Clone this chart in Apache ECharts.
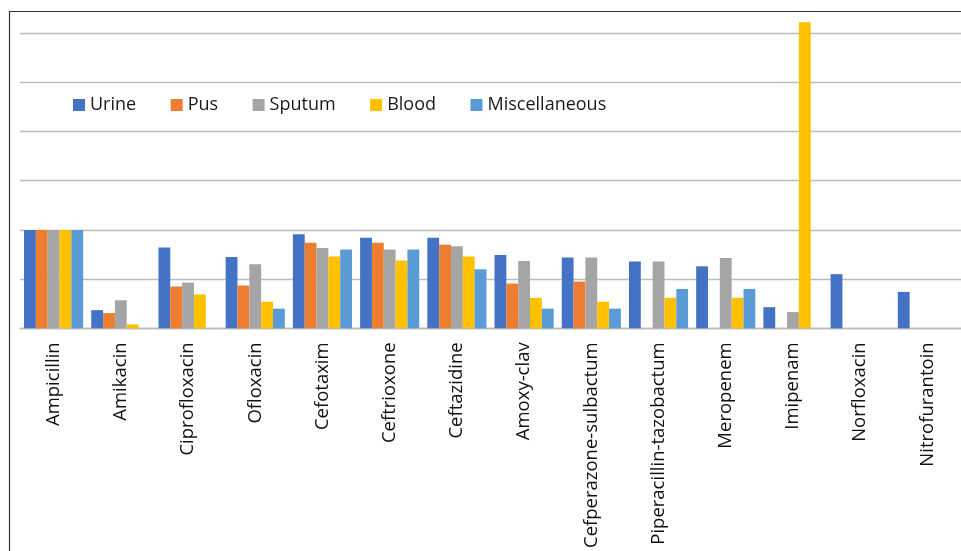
<!DOCTYPE html>
<html>
<head>
<meta charset="utf-8">
<script src="https://cdn.jsdelivr.net/npm/echarts@6/dist/echarts.min.js"></script>
<style>
  html, body { margin: 0; padding: 0; background: #fff; }
  #chart { width: 961px; height: 551px; }
</style>
</head>
<body>
<div id="chart"></div>
<script>
// Antibiotics tested
const categories = [
  'Ampicillin', 'Amikacin', 'Ciprofloxacin', 'Ofloxacin', 'Cefotaxim',
  'Ceftrioxone', 'Ceftazidine', 'Amoxy-clav', 'Cefperazone-sulbactum',
  'Piperacillin-tazobactum', 'Meropenem', 'Imipenam', 'Norfloxacin', 'Nitrofurantoin'
];

// Values per specimen source
const urine   = [100, 18.5, 82, 72.5, 95.5, 92, 92, 74.5, 72, 68, 63, 21.5, 55, 37];
const pus     = [100, 15.5, 42.5, 43.5, 87, 87, 85, 45.5, 47.5, 0, 0, 0, 0, 0];
const sputum  = [100, 28.5, 46.5, 65, 81.5, 80, 83.5, 68.5, 72, 68, 71.5, 16.5, 0, 0];
const blood   = [100, 4, 34.5, 27, 73, 69, 73, 31, 27, 31, 31, 311, 0, 0];
const misc    = [100, 0, 0, 20, 80, 80, 60, 20, 20, 40, 40, 0, 0, 0];

const seriesNames = ['Urine', 'Pus', 'Sputum', 'Blood', 'Miscellaneous'];
const seriesData = [urine, pus, sputum, blood, misc];
const colors = ['#4472C4', '#ED7D31', '#A5A5A5', '#FFC000', '#5B9BD5'];

const FONT = '"Open Sans", "DejaVu Sans", sans-serif';

const chart = echarts.init(document.getElementById('chart'), null, { renderer: 'canvas' });

chart.setOption({
  animation: false,
  backgroundColor: '#ffffff',
  color: colors,
  textStyle: { fontFamily: FONT },
  graphic: [{
    type: 'rect',
    silent: true,
    z: -1,
    shape: { x: 9.5, y: 11.5, width: 1000, height: 600 },
    style: { fill: null, stroke: '#333333', lineWidth: 1.2 }
  }],
  legend: {
    left: 73,
    top: 96,
    padding: 0,
    itemWidth: 12,
    itemHeight: 12,
    itemGap: 34.5,
    icon: 'rect',
    textStyle: { fontSize: 18, color: '#1a1a1a', fontFamily: FONT },
    data: seriesNames
  },
  grid: { left: 20, top: 33, width: 945, height: 297.3, containLabel: false },
  xAxis: {
    type: 'category',
    data: categories,
    axisLine: { show: true, lineStyle: { color: '#bcbcbc', width: 1.4 } },
    axisTick: { show: false },
    axisLabel: {
      rotate: 90,
      margin: 14,
      interval: 0,
      fontSize: 18.5,
      color: '#111111',
      fontFamily: FONT
    }
  },
  yAxis: {
    type: 'value',
    min: 0,
    max: 300,
    interval: 50,
    axisLine: { show: false },
    axisTick: { show: false },
    axisLabel: { show: false },
    splitLine: { show: true, lineStyle: { color: '#bcbcbc', width: 1.4 } }
  },
  series: seriesNames.map((name, i) => ({
    name,
    type: 'bar',
    data: seriesData[i],
    clip: false,
    barGap: '0%',
    barCategoryGap: '12%',
    itemStyle: { color: colors[i] }
  }))
});
</script>
</body>
</html>
